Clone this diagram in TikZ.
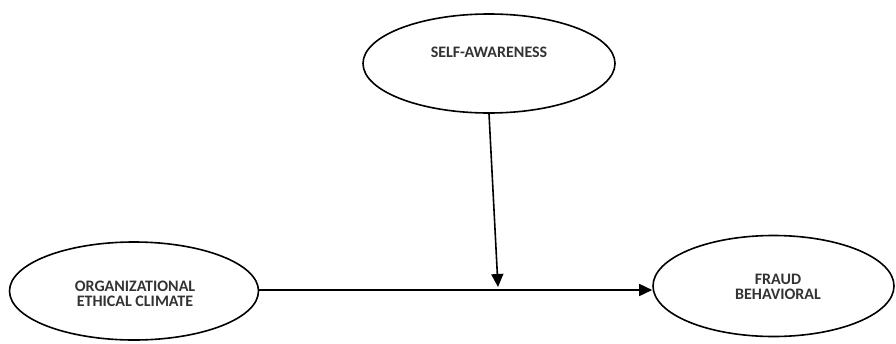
\documentclass[tikz,border=0pt]{standalone}
\usepackage{fontspec}
\setmainfont{Carlito}
\usetikzlibrary{shapes.geometric,arrows.meta}
\begin{document}
\begin{tikzpicture}[x=1pt,y=-1pt,
  oval/.style={ellipse,draw,line width=1.6pt,inner sep=0pt},
  lbl/.style={font=\fontsize{16}{15}\selectfont\bfseries,text=black!80,align=center},
  conn/.style={line width=1.6pt,-{Triangle[length=13pt,width=12pt]}}]
\useasboundingbox (0,0) rectangle (896,343);
\node[oval,minimum width=252pt,minimum height=99pt] (self) at (489,63.5) {};
\node[oval,minimum width=249pt,minimum height=98pt] (org) at (134,291) {};
\node[oval,minimum width=241pt,minimum height=101pt] (fraud) at (773.5,286) {};
\node[lbl] (tself) at (489,52) {SELF-AWARENESS};
\node[lbl] (torg) at (135,293.5) {ORGANIZATIONAL\\ETHICAL CLIMATE};
\node[lbl] (tfraud) at (778,287) {FRAUD\\BEHAVIORAL};
\coordinate (meet) at (498,287);
\draw[conn] (org.east |- 0,290) -- (fraud.west |- 0,290);
\draw[conn] (self.south) -- (meet);
\end{tikzpicture}
\end{document}
